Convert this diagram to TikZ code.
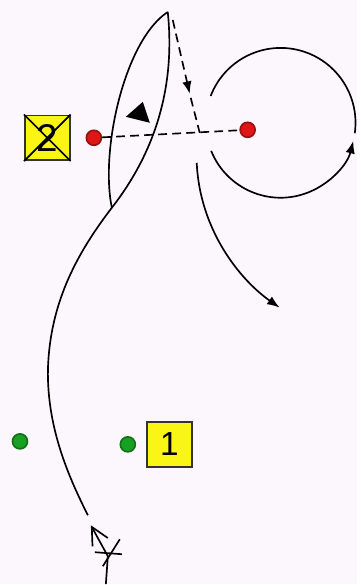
\documentclass[tikz,border=0pt]{standalone}
\usepackage{fontspec}
\setmainfont{Liberation Sans}
\usepackage{xcolor}
\definecolor{paper}{RGB}{252,247,252}
\definecolor{cone}{RGB}{250,245,20}
\definecolor{redball}{RGB}{222,22,22}
\definecolor{greenball}{RGB}{24,160,34}
\usetikzlibrary{arrows.meta,positioning,calc}

\begin{document}
\begin{tikzpicture}[
  x=0.02cm, y=-0.02cm,
  line width=0.95pt,
  player/.style={draw=black!80, fill=cone, minimum width=0.9cm, minimum height=0.9cm, inner sep=0pt},
  ball/.style={circle, draw=#1!70!black, fill=#1, minimum size=0.3cm, inner sep=0pt},
  pass/.style={dash pattern=on 5pt off 3pt},
  arrow/.style={-{Latex[length=2.5mm]}}
]
\fill[paper] (0,0) rectangle (358,585);

% balls and players
\node[ball=redball] (r1) at (94,138) {};
\node[ball=redball] (r2) at (248,130) {};
\node[player, left=0.3cm of r1] (p2) {};
\draw (p2.north west) -- (p2.south east);
\draw (p2.south west) -- (p2.north east);
\node at (p2) {\fontsize{22}{22}\selectfont 2};
\node[ball=greenball] (g1) at (20,442) {};
\node[ball=greenball] (g2) at (128,445) {};
\node[player, right=0.2cm of g2] (p1) {\fontsize{19}{19}\selectfont 1};

% run of the player
\coordinate (top) at (168,12);
\coordinate (knee) at (112,208);
\coordinate (low) at (48,370);
\coordinate (foot) at (88,516);
\draw (top) .. controls (125,40) and (100,150) .. (knee);
\draw (top) .. controls (174,70) and (165,140) .. (knee);
\draw (knee) .. controls (80,250) and (50,300) .. (low)
  .. controls (47,430) and (70,480) .. (foot);
\fill (143,102) -- (126,117) -- (150,123) -- cycle;

% start mark
\coordinate (start) at (106,585);
\coordinate (mark) at (108,557);
\coordinate (aim) at (91,526);
\draw (start) -- (mark);
\draw[-{Straight Barb[length=3.5mm,width=3.5mm]}] (mark) -- (aim);
\draw (mark) ++(-13,-4) -- ++(27,2);
\draw (mark) ++(12,-17) -- ++(-17,27);

% pass and ball path
\draw[pass] (r1) -- (r2);
\coordinate (drop) at (190,94);
\coordinate (cross) at (200,133);
\draw[pass, arrow] ($(top)+(5,8)$) -- (drop);
\draw[pass] ($(drop)+(1,4)$) -- (cross);
\coordinate (turn) at (197,163);
\coordinate (exit) at (280,308);
\draw[arrow] (turn) .. controls (200,230) and (240,280) .. (exit);

% circle round the ball
\coordinate (cc) at (281,123);
\draw ($(cc)+(201:75)$) arc[start angle=201, end angle=368, radius=75];
\draw[arrow] ($(cc)+(158:75)$) arc[start angle=158, end angle=14, radius=75];
\end{tikzpicture}
\end{document}
